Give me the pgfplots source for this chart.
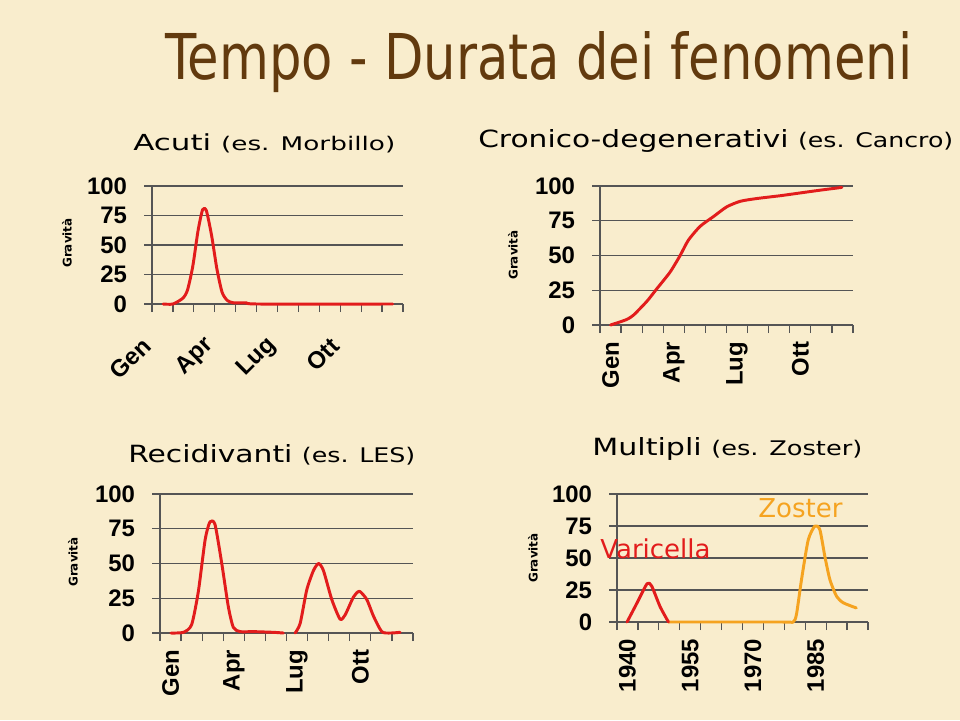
\documentclass[border=0pt]{standalone}
\usepackage{pgfplots}
\pgfplotsset{compat=1.18}
\usepackage{fontspec}
\setmainfont{DejaVu Sans}
\newfontfamily\tickfont{Liberation Sans}
\definecolor{bg}{RGB}{249,237,205}
\definecolor{gridc}{RGB}{85,85,85}
\definecolor{curvered}{RGB}{226,28,28}
\definecolor{zosterc}{RGB}{245,163,32}
\definecolor{titlebrown}{RGB}{98,58,14}
\pgfplotsset{
  panel/.style={
    scale only axis, anchor=south west, clip=false,
    ymin=0, ymax=100, ytick={0,25,50,75,100},
    axis x line*=bottom, axis y line*=left,
    axis line style={-, line width=0.9pt, color=gridc},
    ymajorgrids, grid style={line width=0.9pt, color=gridc},
    tick style={line width=0.9pt, color=gridc},
    tick align=outside,
    major tick length=0.2cm,
    /pgf/number format/assume math mode=true,
    /pgf/number format/1000 sep={},
    tick label style={font=\tickfont\bfseries\fontsize{17}{17}\selectfont, text=black},
    yticklabel style={xshift=-0.3cm},
    xticklabels={},
    extra x tick style={major tick length=0pt},
  },
  months/.style={
    xmin=0.5, xmax=12.5, xtick={0.5,1.5,...,12.5},
    extra x ticks={1,4,7,10}, extra x tick labels={Gen,Apr,Lug,Ott},
  },
  vlabels/.style={xticklabel style={yshift=-0.3cm, rotate=90, anchor=east}},
  curve/.style={line width=2.1pt, color=curvered, smooth, tension=0.4, line join=round, line cap=round},
}
\begin{document}
\begin{tikzpicture}
\fill[bg] (0,0) rectangle (24cm,-18cm);

% ---------------- Panel 1: Acuti
\begin{axis}[panel, months, at={(3.8cm,-7.6cm)}, width=6.275cm, height=2.95cm,
  xticklabel style={inner sep=1pt, xshift=-0.36cm, yshift=-0.92cm, rotate=45, anchor=east}]
\addplot[curve] coordinates {
(1.03,0) (1.5,0) (1.98,5) (2.2,12) (2.45,32) (2.7,62) (2.92,80) (3.1,79)
(3.35,58) (3.6,30) (3.85,10) (4.1,3) (4.4,1) (5.0,1) (5.6,0) (12,0)};
\end{axis}

% ---------------- Panel 2: Cronico-degenerativi
\begin{axis}[panel, months, vlabels, at={(15.0cm,-8.125cm)}, width=6.325cm, height=3.475cm]
\addplot[curve] coordinates {
(1.0,0) (1.4,2) (1.77,4) (2.08,7) (2.72,17) (3.19,26) (3.82,38) (4.3,50)
(4.69,61) (5.25,71) (5.88,78) (6.51,85) (7.15,89) (7.94,91) (9.04,93)
(9.99,95) (10.94,97) (11.97,99)};
\end{axis}

% ---------------- Panel 3: Recidivanti
\begin{axis}[panel, months, vlabels, at={(4.0cm,-15.825cm)}, width=6.325cm, height=3.475cm]
\addplot[curve] coordinates {
(1.02,0) (1.61,0.5) (2.0,6) (2.32,30) (2.64,67) (2.87,80) (3.11,78) (3.43,50)
(3.74,19) (3.98,4) (4.3,1) (4.93,1) (5.88,0.5) (6.35,0)};
\addplot[curve] coordinates {
(6.91,0) (7.15,7) (7.46,31) (7.78,45) (8.02,50) (8.25,45) (8.65,24) (9.04,10)
(9.28,13) (9.68,26) (9.96,30) (10.31,24) (10.63,12) (11.02,1) (11.42,0) (11.89,0.5)};
\end{axis}

% ---------------- Panel 4: Multipli
\begin{axis}[panel, vlabels, at={(15.425cm,-15.55cm)}, width=6.275cm, height=3.2cm,
  xmin=1937.5, xmax=1997.5, xtick={1937.5,1942.5,...,1997.5},
  extra x ticks={1940,1955,1970,1985}]
\addplot[curve, color=zosterc] coordinates {
(1949.8,0) (1977,0) (1979.6,0) (1980.4,6) (1981.6,33) (1983.2,64) (1984.8,75)
(1986,72) (1987.2,51) (1988.4,33) (1990,20) (1991.6,15) (1994.7,11)};
\addplot[curve] coordinates {
(1939.9,0) (1942.3,15) (1944.7,30) (1945.8,28) (1947.8,12) (1949.8,0)};
\end{axis}

% ---------------- Titles
\node[anchor=base west, inner sep=0, text=titlebrown] at (4.125cm,-1.975cm)
  {\resizebox{18.675cm}{1.2cm}{\fontsize{40}{40}\selectfont Tempo - Durata dei fenomeni}};
\node[anchor=base west, inner sep=0] at (3.325cm,-3.75cm)
  {\resizebox{6.55cm}{0.42cm}{\fontsize{20}{20}\selectfont Acuti {\fontsize{17}{17}\selectfont (es. Morbillo)}}};
\node[anchor=base west, inner sep=0] at (11.95cm,-3.675cm)
  {\resizebox{11.875cm}{0.45cm}{\fontsize{20}{20}\selectfont Cronico-degenerativi {\fontsize{17}{17}\selectfont (es. Cancro)}}};
\node[anchor=base west, inner sep=0] at (3.2cm,-11.55cm)
  {\resizebox{7.175cm}{0.45cm}{\fontsize{20}{20}\selectfont Recidivanti {\fontsize{17}{17}\selectfont (es. LES)}}};
\node[anchor=base west, inner sep=0] at (14.8cm,-11.375cm)
  {\resizebox{6.75cm}{0.45cm}{\fontsize{20}{20}\selectfont Multipli {\fontsize{17}{17}\selectfont (es. Zoster)}}};

% ---------------- Gravità labels
\foreach \p in {(1.675cm,-6.075cm),(12.825cm,-6.375cm),(1.825cm,-14.05cm),(13.325cm,-13.95cm)}
  \node[rotate=90, font=\bfseries\fontsize{8.5}{8.5}\selectfont] at \p {Gravità};

% ---------------- Series labels
\node[anchor=base west, inner sep=0, text=curvered, font=\fontsize{18.5}{18.5}\selectfont] at (15.0cm,-13.95cm) {Varicella};
\node[anchor=base west, inner sep=0, text=zosterc, font=\fontsize{18.5}{18.5}\selectfont] at (18.95cm,-12.925cm) {Zoster};

\pgfresetboundingbox
\useasboundingbox (0,0) rectangle (24cm,-18cm);
\end{tikzpicture}
\end{document}
